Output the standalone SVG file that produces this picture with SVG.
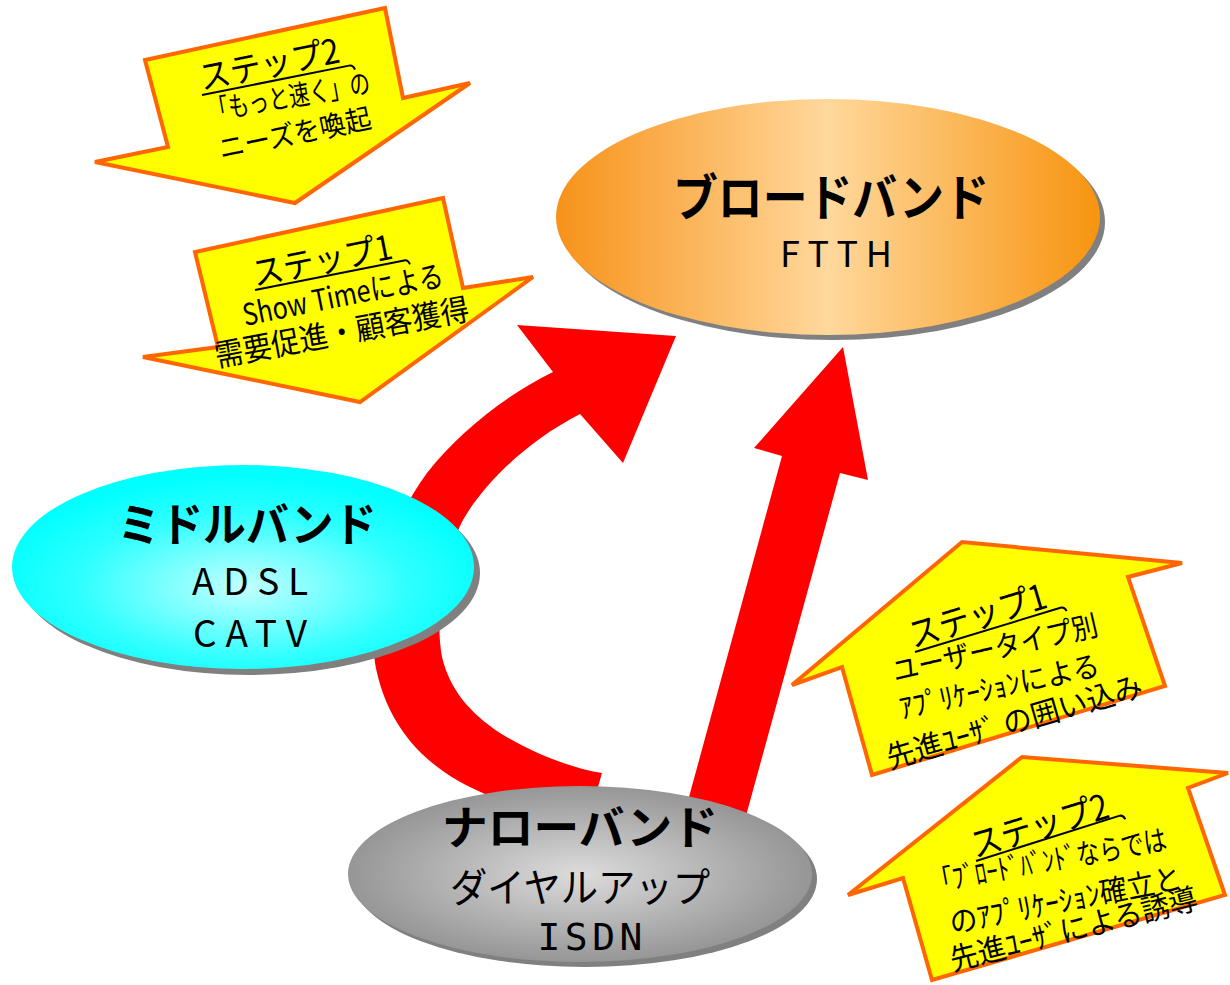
<svg xmlns="http://www.w3.org/2000/svg" width="1230" height="985" viewBox="0 0 1230 985">
<defs>
 <linearGradient id="gBroad" x1="0" y1="0" x2="1" y2="0">
  <stop offset="0" stop-color="#F7921A"/>
  <stop offset="0.5" stop-color="#FFD89C"/>
  <stop offset="1" stop-color="#F7940F"/>
 </linearGradient>
 <radialGradient id="gMid" cx="0.5" cy="0.6" r="0.55">
  <stop offset="0" stop-color="#C4FFFF"/>
  <stop offset="0.65" stop-color="#2EFFFF"/>
  <stop offset="1" stop-color="#00FFFF"/>
 </radialGradient>
 <radialGradient id="gNarrow" cx="0.5" cy="0.5" r="0.5">
  <stop offset="0" stop-color="#DCDCDC"/>
  <stop offset="1" stop-color="#969696"/>
 </radialGradient>
</defs>
<style>
 .jp{font-family:"Noto Sans CJK JP","Noto Sans",sans-serif;fill:#000}
 .b{font-weight:700}
 .mono{font-family:"DejaVu Sans Mono","Liberation Mono",monospace;fill:#000}
 .yarrow{fill:#FFFF00;stroke:#FF6600;stroke-width:4;stroke-linejoin:miter}
 .red{fill:#FF0000}
 .shadow{fill:#808080}
 .ul{fill:none;stroke:#000;stroke-width:2}
</style>
<rect width="1230" height="985" fill="#FFFFFF"/>

<g id="connectors">
 <path id="curved-arrow" class="red" d="M602,773 C570,768 530,752 500,733 C470,713 450,690 442,657 C435,620 442,560 463,520 C480,490 520,445 580,414 L623,463 L676,336 L517,325 L553,372 C500,398 455,437 427,473 C385,530 368,600 375,663 C385,720 420,770 493,797 L590,815 Z"/>
 <path id="straight-arrow" class="red" d="M843,347 L868,480 L840,473 L738,845 L680,830 L782,456 L754,448 Z"/>
</g>

<g id="step2-top">
 <polygon class="yarrow" points="385,8 145,60 168,147 95,162 295,203 470,83 403,98"/>
 <text class="jp" x="202" y="90" font-size="34" transform="rotate(-11.3 202 90)" textLength="142" lengthAdjust="spacingAndGlyphs">ステップ2</text>
 <path class="ul" transform="translate(202,95) rotate(-11.3)" d="M0,0 H150 q4,0 5,5"/>
 <text class="jp" x="210" y="121" font-size="28" transform="rotate(-10 210 121)" textLength="164" lengthAdjust="spacingAndGlyphs">「もっと速く」の</text>
 <text class="jp" x="221" y="159" font-size="28" transform="rotate(-11.7 221 159)" textLength="155" lengthAdjust="spacingAndGlyphs">ニーズを喚起</text>
</g>

<g id="step1-top">
 <polygon class="yarrow" points="443,198 195,252 218,347 143,357 360,402 533,277 463,288"/>
 <text class="jp" x="255" y="286" font-size="34" transform="rotate(-11.2 255 286)" textLength="142" lengthAdjust="spacingAndGlyphs">ステップ1</text>
 <path class="ul" transform="translate(255,290) rotate(-11.2)" d="M0,0 H152 q4,0 5,5"/>
 <text class="jp" x="245" y="326" font-size="30" transform="rotate(-11.4 245 326)" textLength="204" lengthAdjust="spacingAndGlyphs">Show Timeによる</text>
 <text class="jp" x="217" y="367" font-size="31" transform="rotate(-10.6 217 367)" textLength="258" lengthAdjust="spacingAndGlyphs">需要促進・顧客獲得</text>
</g>

<g id="step1-right">
 <polygon class="yarrow" points="792,685 962,542 1182,563 1128,577 1165,686 872,775 842,667"/>
 <text class="jp" x="913" y="648" font-size="35" transform="rotate(-16.7 913 648)" textLength="142" lengthAdjust="spacingAndGlyphs">ステップ1</text>
 <path class="ul" transform="translate(915,652) rotate(-16.9)" d="M0,0 H152 q4,0 5,5"/>
 <text class="jp" x="895" y="682" font-size="29" transform="rotate(-13 895 682)" textLength="210" lengthAdjust="spacingAndGlyphs">ユーザータイプ別</text>
 <text class="jp" x="902" y="719" font-size="29" transform="rotate(-12.5 902 719)" textLength="204" lengthAdjust="spacingAndGlyphs">ｱﾌﾟﾘｹｰｼｮﾝによる</text>
 <text class="jp" x="890" y="769" font-size="30" transform="rotate(-16.1 890 769)" textLength="265" lengthAdjust="spacingAndGlyphs">先進ﾕｰｻﾞ の囲い込み</text>
</g>

<g id="step2-right">
 <polygon class="yarrow" points="848,895 1022,757 1228,773 1188,788 1225,895 932,980 903,878"/>
 <text class="jp" x="975" y="858" font-size="35" transform="rotate(-16.7 975 858)" textLength="142" lengthAdjust="spacingAndGlyphs">ステップ2</text>
 <path class="ul" transform="translate(976,861) rotate(-17.5)" d="M0,0 H150 q4,0 5,5"/>
 <text class="jp" x="932" y="893" font-size="29" transform="rotate(-10.5 932 893)" textLength="240" lengthAdjust="spacingAndGlyphs">「ﾌﾞﾛｰﾄﾞﾊﾞﾝﾄﾞならでは</text>
 <text class="jp" x="952" y="934" font-size="30" transform="rotate(-11.3 952 934)" textLength="236" lengthAdjust="spacingAndGlyphs">のｱﾌﾟﾘｹｰｼｮﾝ確立と</text>
 <text class="jp" x="953" y="971" font-size="30" transform="rotate(-14.3 953 971)" textLength="254" lengthAdjust="spacingAndGlyphs">先進ﾕｰｻﾞによる誘導</text>
</g>

<g id="broadband">
 <ellipse class="shadow" cx="833" cy="222" rx="272" ry="118"/>
 <ellipse cx="828" cy="217" rx="272" ry="118" fill="url(#gBroad)"/>
 <text class="jp b" x="831" y="216" font-size="50" text-anchor="middle" textLength="316" lengthAdjust="spacingAndGlyphs">ブロードバンド</text>
 <text class="jp" x="836" y="267" font-size="36" text-anchor="middle" textLength="112" lengthAdjust="spacing">FTTH</text>
</g>

<g id="midband">
 <ellipse class="shadow" cx="249" cy="573" rx="231" ry="102"/>
 <ellipse cx="243" cy="567" rx="231" ry="102" fill="url(#gMid)"/>
 <text class="jp b" x="247" y="541" font-size="46" text-anchor="middle" textLength="259" lengthAdjust="spacingAndGlyphs">ミドルバンド</text>
 <text class="jp" x="250" y="595" font-size="37" text-anchor="middle" textLength="116" lengthAdjust="spacing">ADSL</text>
 <text class="jp" x="250" y="647" font-size="37" text-anchor="middle" textLength="114" lengthAdjust="spacing">CATV</text>
</g>

<g id="narrowband">
 <ellipse class="shadow" cx="585" cy="879" rx="232" ry="88"/>
 <ellipse cx="580" cy="874" rx="232" ry="88" fill="url(#gNarrow)"/>
 <text class="jp b" x="580" y="844" font-size="46" text-anchor="middle" textLength="276" lengthAdjust="spacingAndGlyphs">ナローバンド</text>
 <text class="jp" x="580" y="902" font-size="40" text-anchor="middle" textLength="260" lengthAdjust="spacingAndGlyphs">ダイヤルアップ</text>
 <text class="mono" x="590" y="950" font-size="38" text-anchor="middle" textLength="105" lengthAdjust="spacing">ISDN</text>
</g>
</svg>
